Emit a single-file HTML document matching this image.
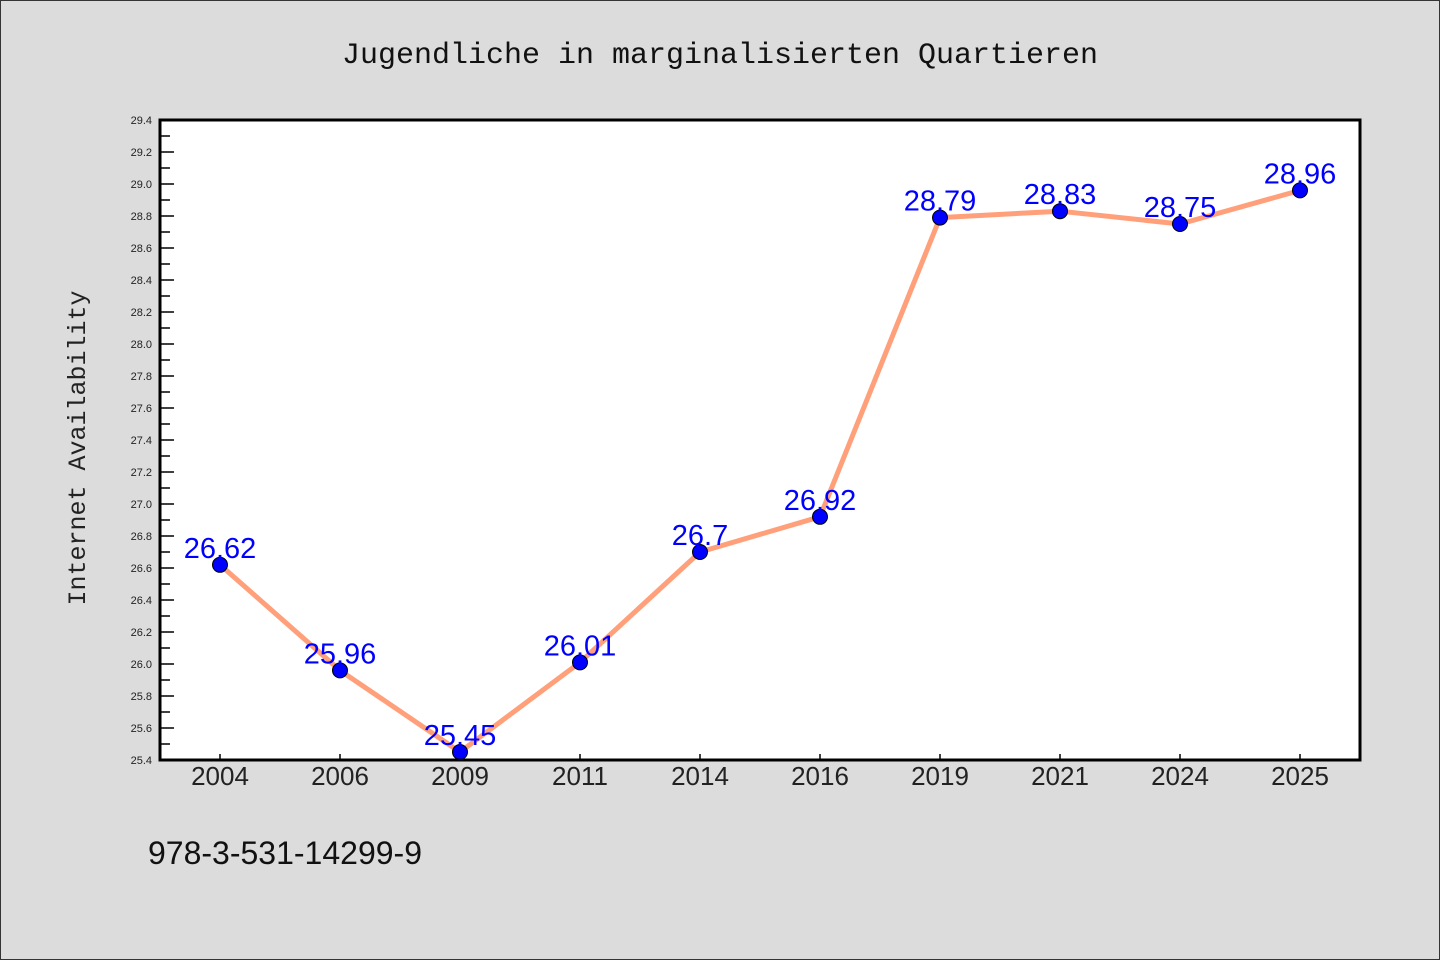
<!DOCTYPE html>
<html><head><meta charset="utf-8"><style>
html,body{margin:0;padding:0;background:#dcdcdc;}
svg{display:block;}
</style></head><body>
<svg width="1440" height="960" xmlns="http://www.w3.org/2000/svg">
<rect x="0.5" y="0.5" width="1439" height="959" fill="#dcdcdc" stroke="#333"/>
<text x="720" y="63" text-anchor="middle" font-family="'Liberation Mono', monospace" font-size="30" fill="#111">Jugendliche in marginalisierten Quartieren</text>
<text transform="translate(85,448) rotate(-90)" text-anchor="middle" font-family="'Liberation Mono', monospace" font-size="25" fill="#222">Internet Availability</text>
<text x="148" y="864" font-family="'WenQuanYi Zen Hei','Liberation Sans',sans-serif" font-size="32" fill="#111">978-3-531-14299-9</text>
<rect x="160" y="120" width="1200" height="640" fill="#fff"/>
<g id="axes"></g>
<g id="marks"></g>
<rect x="160" y="120" width="1200" height="640" fill="none" stroke="#000" stroke-width="3"/>
</svg>
<script>
const categories = ["2004","2006","2009","2011","2014","2016","2019","2021","2024","2025"];
const values = [26.62,25.96,25.45,26.01,26.7,26.92,28.79,28.83,28.75,28.96];
const labels = ["26.62","25.96","25.45","26.01","26.7","26.92","28.79","28.83","28.75","28.96"];
const yMin = 25.4, yMax = 29.4;
const L=160,R=1360,T=120,B=760;
const NS="http://www.w3.org/2000/svg";
const xs = i => L + 60 + i*(R-L-120)/(categories.length-1);
const ys = v => B - (v-yMin)/(yMax-yMin)*(B-T);
function mk(tag,attrs,parent){const e=document.createElementNS(NS,tag);for(const k in attrs)e.setAttribute(k,attrs[k]);parent.appendChild(e);return e;}
const axes=document.getElementById('axes'), marks=document.getElementById('marks');
for(let k=0;k<=40;k++){
  const v=yMin+k*0.1; const y=ys(v);
  const major=k%2===0;
  const t=mk('line',{x1:L,x2:L+(major?14:10),y1:y,y2:y,stroke:'#000','stroke-width':1.5},axes);
  
  
  if(major){
    const tx=mk('text',{x:L-8,y:y+4,'text-anchor':'end','font-family':"'Liberation Sans',sans-serif",'font-size':11,fill:'#222'},axes);
    tx.textContent=v.toFixed(1);
    
    
  }
}
categories.forEach((c,i)=>{
  const x=xs(i);
  const t=mk('line',{x1:x,x2:x,y1:B,y2:B-6,stroke:'#000','stroke-width':1.5},axes);
  
  
  const tx=mk('text',{x:x,y:B+25,'text-anchor':'middle','font-family':"'WenQuanYi Zen Hei','Liberation Sans',sans-serif",'font-size':26,fill:'#222'},axes);
  tx.textContent=c;
  
  
});
const pl=mk('polyline',{points:values.map((v,i)=>xs(i)+','+ys(v)).join(' '),fill:'none',stroke:'#ffa07a','stroke-width':5,'stroke-linejoin':'round'},marks);


values.forEach((v,i)=>{
  const c=mk('circle',{cx:xs(i),cy:ys(v),r:7.5,fill:'#0000ff',stroke:'#000','stroke-width':1},marks);
  
  
});
values.forEach((v,i)=>{
  const t=mk('text',{x:xs(i),y:ys(v)-7,'text-anchor':'middle','font-family':"'WenQuanYi Zen Hei','Liberation Sans',sans-serif",'font-size':29,fill:'#0000ff'},marks);
  t.textContent=labels[i];
  
  
});
</script>
</body></html>
